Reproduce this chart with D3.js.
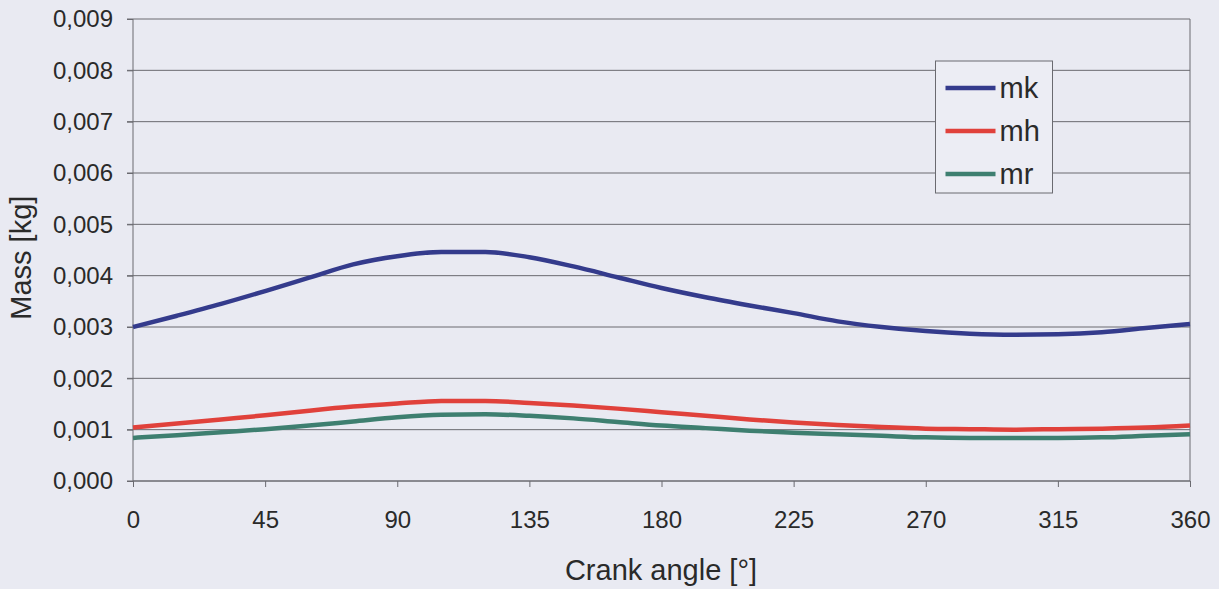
<!DOCTYPE html>
<html lang="en">
<head>
    <meta charset="UTF-8">
    <title>Mass vs crank angle</title>
    <script src="https://d3js.org/d3.v7.min.js"></script>
    <style>
        body { margin: 0; background: #e9eaf2; }
        svg { display: block; font-family: "Liberation Sans", Arial, sans-serif; }
        .grid line { stroke: #6a6a70; stroke-width: 1px; }
        .axis text { font-size: 24px; fill: #2a2a2a; }
        .axis path, .axis line { stroke: #6a6a70; }
        .series { fill: none; stroke-width: 4.5px; stroke-linejoin: round; }
    </style>
</head>
<body>
    <svg width="1219" height="589"></svg>

    <script>
        // crank angle in degrees
        const angles = [0, 15, 30, 45, 60, 75, 90, 105, 120, 135, 150, 165, 180,
                        195, 210, 225, 240, 255, 270, 285, 300, 315, 330, 345, 360];

        // masses in kg
        const mk = [0.00300, 0.00322, 0.00345, 0.00370, 0.00396, 0.00422, 0.00438, 0.00446, 0.00446,
                    0.00436, 0.00418, 0.00397, 0.00376, 0.00358, 0.00342, 0.00327, 0.00311, 0.00300,
                    0.00292, 0.00287, 0.00285, 0.00286, 0.00290, 0.00298, 0.00306];
        const mh = [0.00104, 0.00112, 0.00120, 0.00128, 0.00137, 0.00145, 0.00151, 0.00156, 0.00156,
                    0.00152, 0.00147, 0.00141, 0.00134, 0.00127, 0.00120, 0.00114, 0.00109, 0.00105,
                    0.00102, 0.00101, 0.00100, 0.00101, 0.00102, 0.00104, 0.00108];
        const mr = [0.00084, 0.00089, 0.00095, 0.00101, 0.00108, 0.00116, 0.00124, 0.00129, 0.00130,
                    0.00127, 0.00122, 0.00115, 0.00108, 0.00103, 0.00098, 0.00094, 0.00091, 0.00088,
                    0.00085, 0.00084, 0.00084, 0.00084, 0.00085, 0.00088, 0.00091];

        const xTicks = [0, 45, 90, 135, 180, 225, 270, 315, 360];
        const yTicks = [0, 0.001, 0.002, 0.003, 0.004, 0.005, 0.006, 0.007, 0.008, 0.009];

        const series = [
            { name: "mk", values: mk, color: "#343b8c" },
            { name: "mh", values: mh, color: "#e0413b" },
            { name: "mr", values: mr, color: "#3e7f70" }
        ];

        const margin = { top: 19, right: 29, bottom: 108, left: 133 };
        const width = 1219 - margin.left - margin.right;
        const height = 589 - margin.top - margin.bottom;

        const svg = d3.select("svg")
            .append("g")
            .attr("transform", `translate(${margin.left},${margin.top})`);

        const x = d3.scaleLinear().domain([0, 360]).range([0, width]);
        const y = d3.scaleLinear().domain([0, 0.009]).range([height, 0]);

        // horizontal gridlines
        svg.append("g")
            .attr("class", "grid")
            .selectAll("line")
            .data(yTicks)
            .join("line")
            .attr("x1", -6)
            .attr("x2", width)
            .attr("y1", d => y(d))
            .attr("y2", d => y(d));

        // right border of the plot area
        svg.append("line")
            .attr("x1", width).attr("x2", width)
            .attr("y1", 0).attr("y2", height)
            .attr("stroke", "#6a6a70");

        const fmt = d => d3.format(".3f")(d).replace(".", ",");

        svg.append("g")
            .attr("class", "axis")
            .call(d3.axisLeft(y).tickValues(yTicks).tickFormat(fmt).tickSize(6).tickPadding(14))
            .call(g => g.select(".domain").attr("d", `M0,${height}V0`));

        svg.append("g")
            .attr("class", "axis")
            .attr("transform", `translate(0,${height})`)
            .call(d3.axisBottom(x).tickValues(xTicks).tickSize(6).tickPadding(24))
            .call(g => g.select(".domain").attr("d", `M0,0H${width}`));

        const line = d3.line()
            .x((d, i) => x(angles[i]))
            .y(d => y(d))
            .curve(d3.curveMonotoneX);

        svg.selectAll(".series")
            .data(series)
            .join("path")
            .attr("class", "series")
            .attr("stroke", d => d.color)
            .attr("d", d => line(d.values));

        // axis titles
        svg.append("text")
            .attr("x", 661 - margin.left)
            .attr("y", height + 99)
            .attr("text-anchor", "middle")
            .attr("font-size", 29)
            .attr("fill", "#2a2a2a")
            .text("Crank angle [°]");

        svg.append("text")
            .attr("transform", `translate(${-102},${y(0.00435)}) rotate(-90)`)
            .attr("text-anchor", "middle")
            .attr("font-size", 29)
            .attr("fill", "#2a2a2a")
            .text("Mass [kg]");

        // legend
        const legend = svg.append("g")
            .attr("transform", `translate(${935.5 - margin.left},${42})`);

        legend.append("rect")
            .attr("width", 117)
            .attr("height", 132)
            .attr("fill", "#ecedf4")
            .attr("stroke", "#6a6a70");

        const item = legend.selectAll(".item")
            .data(series)
            .join("g")
            .attr("transform", (d, i) => `translate(10,${27 + i * 43})`);

        item.append("line")
            .attr("x1", 0).attr("x2", 50)
            .attr("stroke", d => d.color)
            .attr("stroke-width", 4.5);

        item.append("text")
            .attr("x", 54)
            .attr("dy", "0.35em")
            .attr("font-size", 29)
            .attr("fill", "#2a2a2a")
            .text(d => d.name);
    </script>
</body>
</html>
